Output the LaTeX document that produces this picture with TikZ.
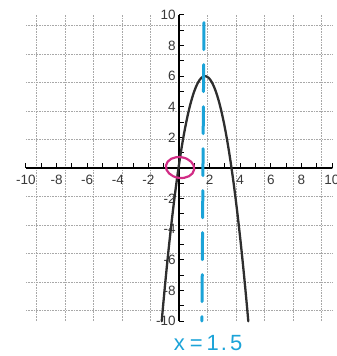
\documentclass[tikz,border=0pt]{standalone}
\usepackage{fontspec}
\setmainfont{Liberation Sans}
\definecolor{gridgray}{HTML}{A8A8A8}
\definecolor{labgray}{HTML}{3A3A3A}
\definecolor{curvegray}{HTML}{2E2E2E}
\definecolor{penblue}{HTML}{1BA3D8}
\definecolor{penpink}{HTML}{D12C85}
\tikzset{
  gridline/.style={gridgray, line width=0.6pt, densely dotted},
  axisline/.style={black, line width=1.3pt},
  tickline/.style={black, line width=1pt},
  xlab/.style={labgray, font=\fontsize{13.5}{13.5}\selectfont, inner sep=0pt, anchor=north},
  ylab/.style={labgray, font=\fontsize{13.5}{13.5}\selectfont, inner sep=0pt, anchor=east},
  curveline/.style={curvegray, line width=2.3pt, line cap=round},
  symline/.style={penblue, line width=3pt, line cap=round, dash pattern=on 27pt off 15pt},
  loopline/.style={penpink, line width=2.2pt},
  handlab/.style={penblue, font=\fontsize{22}{22}\selectfont, inner sep=0pt}
}
\begin{document}
\begin{tikzpicture}[x=15.3pt,y=15.3pt]
\useasboundingbox (-179pt,-188pt) rectangle (158pt,168pt);
% grid
\draw[gridline] (-10,-10) grid (10,10);
% axes
\coordinate (xa) at (-10,0);
\coordinate (xb) at (10,0);
\coordinate (ya) at (0,-10);
\coordinate (yb) at (0,10);
\draw[axisline] (xa) -- (xb);
\draw[axisline] (ya) -- (yb);
\foreach \t in {-10,...,10}{
  \draw[tickline] (\t,0) -- ++(0,0.32);
  \draw[tickline] (0,\t) -- ++(0.32,0);
}
% labels
\foreach \v in {-10,-8,-6,-4,-2,2,4,6,8,10}{
  \node[xlab] (xl\v) at (\v,-0.45) {\v};
  \node[ylab] (yl\v) at (-0.2,\v) {\v};
}
% parabola
\draw[curveline] plot[domain=-1.13:4.53, samples=120, smooth] (\x,{6-2*(\x-1.7)^2});
% axis of symmetry
\coordinate (st) at (1.63,9.5);
\coordinate (sb) at (1.5,-10);
\draw[symline] (st) -- (sb);
% circled intercept
\draw[loopline, rotate around={-8:(0.07,0.03)}] (0.07,0.03) ellipse [x radius=0.93, y radius=0.68];
% label
\node[handlab] (lab) at (1.9,-11.45) {x\hspace{5pt}=\hspace{4pt}1\hspace{2pt}.\hspace{3pt}5};
\end{tikzpicture}
\end{document}
